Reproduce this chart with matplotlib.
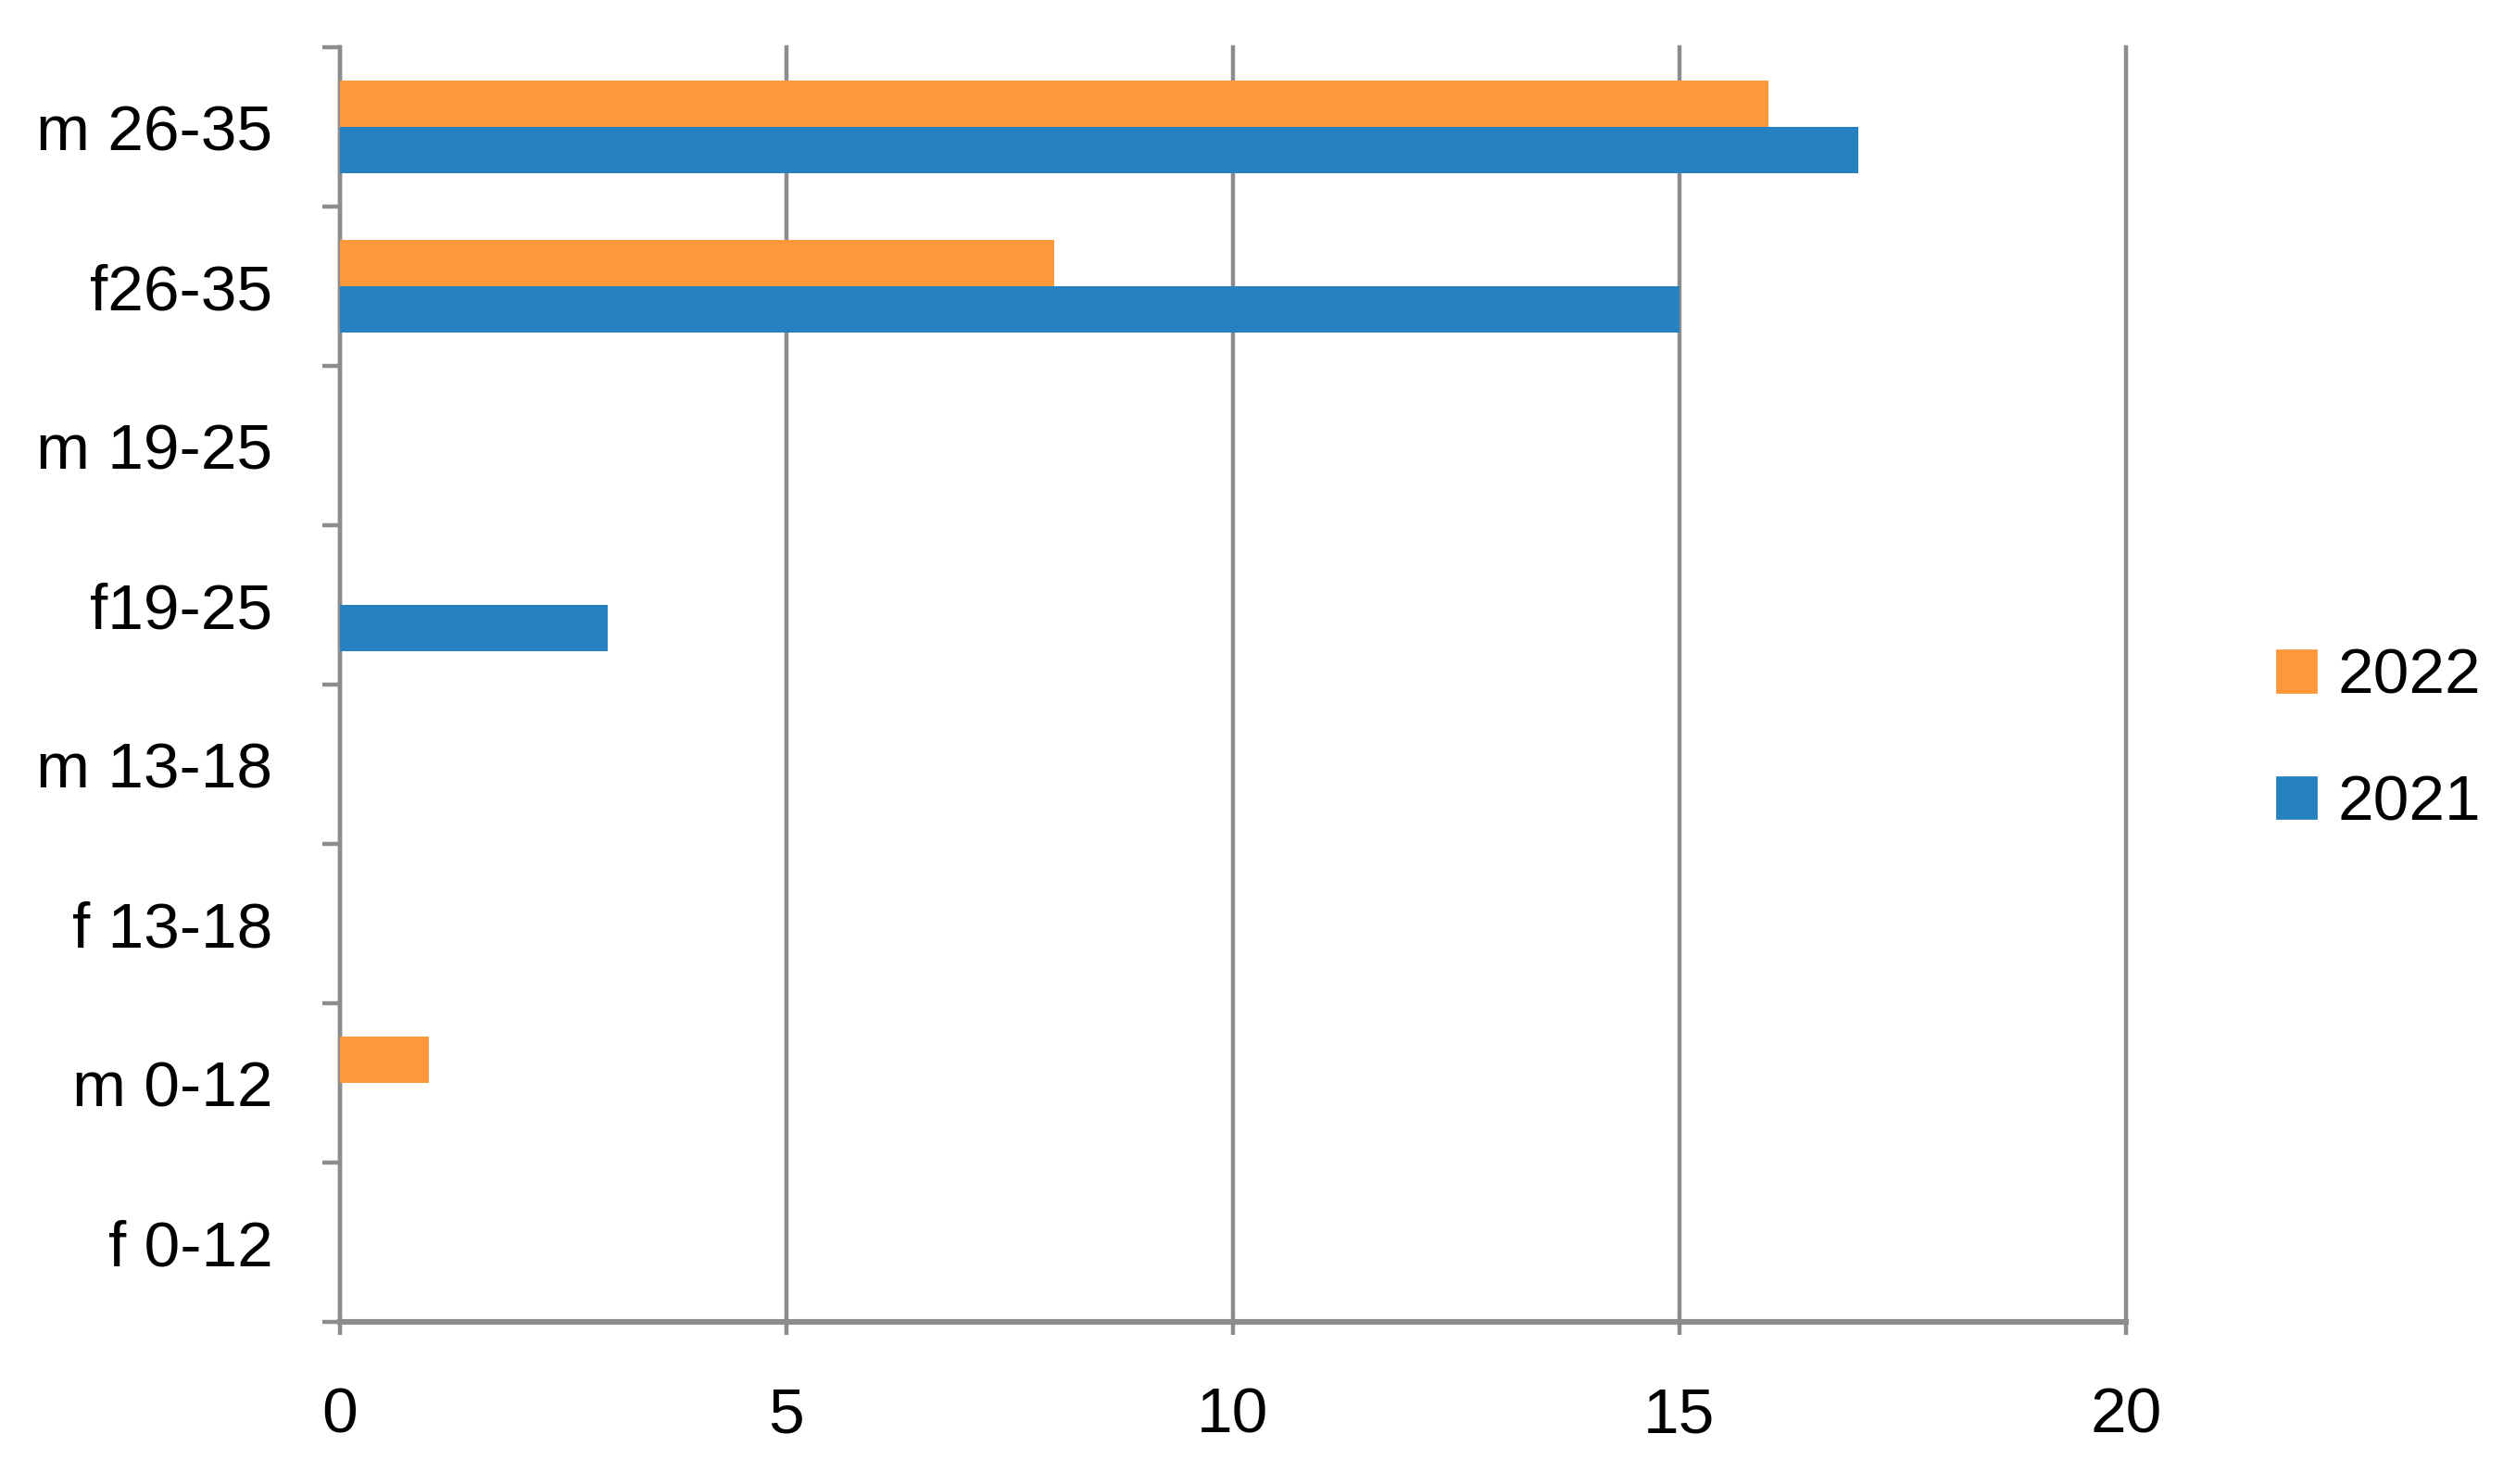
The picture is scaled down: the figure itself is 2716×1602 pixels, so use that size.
import matplotlib
matplotlib.use("Agg")
import matplotlib.pyplot as plt
from matplotlib.patches import Patch
import numpy as np

# categories listed bottom to top
categories = ["f 0-12", "m 0-12", "f 13-18", "m 13-18",
              "f19-25", "m 19-25", "f26-35", "m 26-35"]
values_2021 = [0, 0, 0, 0, 3, 0, 15, 17]
values_2022 = [0, 1, 0, 0, 0, 0, 8, 16]
series_labels = ["2022", "2021"]
x_ticks = [0, 5, 10, 15, 20]

ORANGE = "#FF973B"
BLUE = "#2681C1"
GRID = "#8C8C8C"

plt.rcParams["font.family"] = ["Liberation Sans", "DejaVu Sans"]

fig = plt.figure(figsize=(13.58, 8.01), dpi=200)
ax = fig.add_axes([0.135, 0.109, 0.71, 0.859])

y = np.arange(len(categories))
h = 0.29
ax.barh(y + h / 2, values_2022, h, color=ORANGE, label="2022", zorder=3)
ax.barh(y - h / 2, values_2021, h, color=BLUE, label="2021", zorder=3)

ax.set_xlim(0, 20)
ax.set_ylim(-0.5, len(categories) - 0.5)
ax.set_xticks(x_ticks)
ax.set_xticklabels([str(t) for t in x_ticks])
ax.set_yticks(y)
ax.set_yticklabels(categories)
ax.set_yticks(np.arange(len(categories) + 1) - 0.5, minor=True)

ax.tick_params(axis="y", which="major", length=0, pad=26, labelsize=25)
ax.tick_params(axis="y", which="minor", length=7, width=1.6, color=GRID)
ax.tick_params(axis="x", which="major", length=5, width=1.6, color=GRID,
               pad=20, labelsize=25)

ax.grid(axis="x", color=GRID, linewidth=1.6, zorder=0)
for gl in ax.get_xgridlines():
    gl.set_clip_on(False)
for side in ("top", "right"):
    ax.spines[side].set_visible(False)
ax.spines["left"].set_color(GRID)
ax.spines["left"].set_linewidth(1.6)
ax.spines["bottom"].set_color(GRID)
ax.spines["bottom"].set_linewidth(2.2)

handles = [Patch(color=ORANGE), Patch(color=BLUE)]
fig.legend(handles, series_labels, loc="center left",
           bbox_to_anchor=(0.905, 0.501), frameon=False, fontsize=25,
           handlelength=0.6, handleheight=0.6, handletextpad=0.35,
           labelspacing=1.05, borderpad=0, borderaxespad=0)

fig.savefig("out.png", dpi=200)
